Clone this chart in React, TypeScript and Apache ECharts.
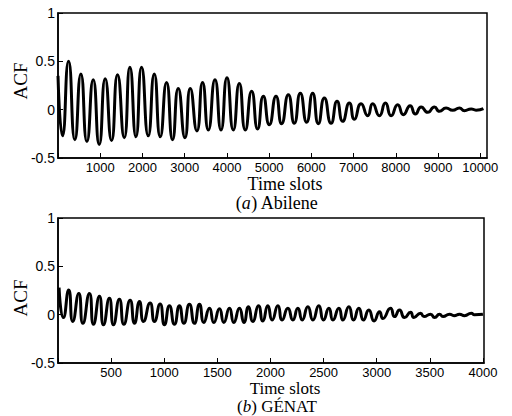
import React, { useEffect, useRef } from 'react';
import * as echarts from 'echarts';

// Abilene: lag (time slots) of successive extrema and ACF value there
const abileneLags = [0, 107, 250, 400, 542, 685, 834, 976, 1118, 1268, 1410, 1569, 1703, 1846, 1979, 2137, 2280, 2422, 2571, 2713, 2848, 3007, 3133, 3290, 3424, 3560, 3718, 3860, 4002, 4152, 4294, 4436, 4586, 4728, 4863, 5005, 5163, 5296, 5455, 5597, 5739, 5889, 6031, 6166, 6308, 6467, 6609, 6742, 6900, 7019, 7178, 7334, 7453, 7611, 7754, 7889, 8045, 8180, 8339, 8464, 8600, 8756, 8915, 9033, 9192, 9348, 9507, 9626, 9785, 9900, 10075];
const abileneAcf = [0.35, -0.27, 0.5, -0.31, 0.37, -0.33, 0.31, -0.36, 0.32, -0.32, 0.36, -0.29, 0.44, -0.28, 0.44, -0.27, 0.37, -0.28, 0.28, -0.31, 0.22, -0.29, 0.22, -0.22, 0.28, -0.21, 0.31, -0.21, 0.33, -0.21, 0.27, -0.21, 0.19, -0.2, 0.14, -0.155, 0.14, -0.145, 0.155, -0.14, 0.17, -0.13, 0.17, -0.145, 0.12, -0.14, 0.086, -0.12, 0.07, -0.1, 0.062, -0.062, 0.062, -0.062, 0.068, -0.062, 0.052, -0.052, 0.041, -0.045, 0.028, -0.028, 0.028, -0.017, 0.017, -0.007, 0.017, -0.01, 0.007, -0.005, 0.01];

// GÉANT
const geantLags = [10, 51, 101, 139, 196, 234, 296, 334, 390, 428, 484, 522, 578, 620, 679, 720, 767, 805, 867, 908, 961, 1002, 1049, 1096, 1143, 1185, 1237, 1284, 1332, 1373, 1426, 1467, 1520, 1561, 1614, 1655, 1708, 1750, 1793, 1834, 1887, 1928, 1975, 2016, 2070, 2110, 2164, 2211, 2258, 2299, 2352, 2399, 2455, 2499, 2550, 2588, 2644, 2682, 2738, 2782, 2832, 2875, 2926, 2975, 3027, 3058, 3130, 3168, 3215, 3262, 3319, 3350, 3413, 3445, 3507, 3545, 3592, 3624, 3686, 3728, 3780, 3827, 3890, 3921, 4000];
const geantAcf = [0.28, -0.03, 0.255, -0.07, 0.22, -0.09, 0.22, -0.1, 0.19, -0.105, 0.17, -0.105, 0.16, -0.1, 0.15, -0.09, 0.135, -0.07, 0.12, -0.07, 0.11, -0.105, 0.093, -0.1, 0.093, -0.09, 0.107, -0.09, 0.107, -0.08, 0.066, -0.08, 0.06, -0.08, 0.066, -0.08, 0.066, -0.08, 0.083, -0.07, 0.093, -0.066, 0.093, -0.055, 0.093, -0.055, 0.066, -0.055, 0.066, -0.055, 0.083, -0.055, 0.093, -0.055, 0.066, -0.055, 0.066, -0.055, 0.083, -0.055, 0.066, -0.055, 0.049, -0.065, 0.03, -0.04, 0.066, -0.02, 0.049, -0.03, 0.025, -0.03, 0.015, -0.02, 0.005, -0.03, 0.005, -0.02, 0.005, -0.01, 0.005, -0.01, 0.015, 0, 0.005];

const yMin = -0.5;
const yMax = 1;
const yStep = 0.5;
const abileneXMax = 10160;
const abileneXStep = 1000;
const geantXMax = 4010;
const geantXStep = 500;

const xTitle = 'Time slots';
const yTitle = 'ACF';
const captionA = ['a', 'Abilene'];
const captionB = ['b', 'GÉNAT'];

const SANS = 'Liberation Sans, Arial, sans-serif';
const SERIF = 'Liberation Serif, Times New Roman, serif';

function xAxis(gridIndex: number, max: number, step: number, fontSize: number) {
  return {
    type: 'value',
    gridIndex,
    min: 0,
    max,
    interval: step,
    axisLine: { show: true, onZero: false, lineStyle: { color: '#000', width: 1.5 } },
    axisTick: { show: true, inside: true, length: 5, lineStyle: { color: '#000', width: 1 } },
    splitLine: { show: false },
    axisLabel: {
      color: '#000',
      fontFamily: SANS,
      fontSize,
      margin: 3,
      showMaxLabel: false,
      formatter: (v: number) => (v === 0 || v % step !== 0 ? '' : String(v)),
    },
  };
}

function yAxis(gridIndex: number) {
  return {
    type: 'value',
    gridIndex,
    min: yMin,
    max: yMax,
    interval: yStep,
    axisLine: { show: true, onZero: false, lineStyle: { color: '#000', width: 1.5 } },
    axisTick: { show: true, inside: true, length: 5, lineStyle: { color: '#000', width: 1 } },
    splitLine: { show: false },
    axisLabel: { color: '#000', fontFamily: SANS, fontSize: 14, margin: 3 },
  };
}

function serifText(x: number, y: number, text: string, size: number, rotation = 0) {
  return {
    type: 'text',
    x,
    y,
    rotation,
    style: {
      text,
      fill: '#000',
      font: `${size}px ${SERIF}`,
      textAlign: 'center',
      textVerticalAlign: 'middle',
    },
  };
}

function caption(x: number, y: number, parts: string[], size: number) {
  return {
    type: 'text',
    x,
    y,
    style: {
      text: `({i|${parts[0]}}) ${parts[1]}`,
      fill: '#000',
      fontFamily: SERIF,
      fontSize: size,
      textAlign: 'center',
      textVerticalAlign: 'middle',
      rich: { i: { fontStyle: 'italic', fontFamily: SERIF, fontSize: size, fill: '#000' } },
    },
  };
}

export default function App() {
  const ref = useRef<HTMLDivElement>(null);
  useEffect(() => {
    if (!ref.current) return;
    const chart = echarts.init(ref.current, undefined, { renderer: 'svg' });
    const gridStyle = { show: true, borderColor: '#000', borderWidth: 1.5, backgroundColor: 'transparent', containLabel: false };
    chart.setOption({
      animation: false,
      backgroundColor: '#fff',
      grid: [
        { ...gridStyle, left: 58, right: 25, top: 13, height: 145 },
        { ...gridStyle, left: 58, right: 28, top: 218, height: 145 },
      ],
      xAxis: [xAxis(0, abileneXMax, abileneXStep, 13), xAxis(1, geantXMax, geantXStep, 13)],
      yAxis: [yAxis(0), yAxis(1)],
      series: [
        {
          type: 'line',
          xAxisIndex: 0,
          yAxisIndex: 0,
          data: abileneLags.map((t, i) => [t, abileneAcf[i]]),
          showSymbol: false,
          smooth: 0.6,
          lineStyle: { color: '#000', width: 3 },
        },
        {
          type: 'line',
          xAxisIndex: 1,
          yAxisIndex: 1,
          data: geantLags.map((t, i) => [t, geantAcf[i]]),
          showSymbol: false,
          smooth: 0.6,
          lineStyle: { color: '#000', width: 3 },
        },
      ],
      graphic: [
        serifText(20, 81, yTitle, 19, Math.PI / 2),
        serifText(20, 298, yTitle, 19, Math.PI / 2),
        serifText(285, 184, xTitle, 18),
        serifText(285, 388, xTitle, 17),
        caption(277, 203, captionA, 18),
        caption(277, 406.5, captionB, 17),
      ],
    });
    return () => chart.dispose();
  }, []);
  return <div ref={ref} style={{ position: 'fixed', left: 0, top: 0, width: 512, height: 416 }} />;
}
